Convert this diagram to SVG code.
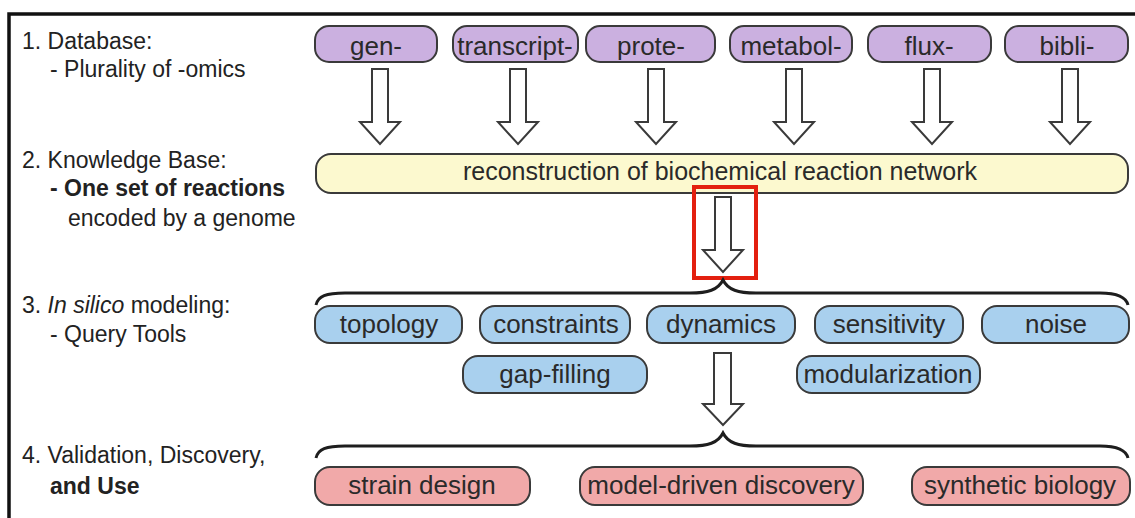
<svg xmlns="http://www.w3.org/2000/svg" width="1135" height="518" viewBox="0 0 1135 518">
<defs>
<style>
.lbl{font-family:"Liberation Sans",Arial,sans-serif;font-size:23px;fill:#222222}
.pt{font-family:"Liberation Sans",Arial,sans-serif;font-size:26px;fill:#2a2a2a;text-anchor:middle}
.yt{font-family:"Liberation Sans",Arial,sans-serif;font-size:25px;fill:#2a2a2a;text-anchor:middle}
.pill{stroke:#3a3a3a;stroke-width:2}
.purple{fill:#cbb0e0}
.yellow{fill:#fcf9cf}
.blue{fill:#a9d0ee}
.pink{fill:#f1a9a9}
.arrow{fill:#ffffff;stroke:#3a3a3a;stroke-width:2;stroke-linejoin:miter}
.brace{fill:none;stroke:#1e1e1e;stroke-width:3}
</style>
</defs>
<rect x="0" y="0" width="1135" height="518" fill="#ffffff"/>
<rect x="9" y="14" width="1200" height="560" fill="none" stroke="#111111" stroke-width="3.5"/>

<g id="labels">
<text class="lbl" x="22" y="49">1. Database:</text>
<text class="lbl" x="50" y="77">- Plurality of -omics</text>
<text class="lbl" x="22" y="168">2. Knowledge Base:</text>
<text class="lbl" x="50" y="196" font-weight="bold">- One set of reactions</text>
<text class="lbl" x="68" y="226">encoded by a genome</text>
<text class="lbl" x="22" y="313">3. <tspan font-style="italic">In silico</tspan> modeling:</text>
<text class="lbl" x="50" y="342">- Query Tools</text>
<text class="lbl" x="22" y="463">4. Validation, Discovery,</text>
<text class="lbl" x="50" y="494" font-weight="bold">and Use</text>
</g>

<g id="node-gen"><rect class="pill purple" x="315" y="26" width="122" height="36" rx="14"/><text class="pt" x="376" y="55">gen-</text></g>
<g id="node-transcript"><rect class="pill purple" x="453" y="26" width="125" height="36" rx="14"/><text class="pt" x="515" y="55">transcript-</text></g>
<g id="node-prote"><rect class="pill purple" x="586" y="26" width="129" height="36" rx="14"/><text class="pt" x="651" y="55">prote-</text></g>
<g id="node-metabol"><rect class="pill purple" x="730" y="26" width="122" height="36" rx="14"/><text class="pt" x="791" y="55">metabol-</text></g>
<g id="node-flux"><rect class="pill purple" x="868" y="26" width="123" height="36" rx="14"/><text class="pt" x="929" y="55">flux-</text></g>
<g id="node-bibli"><rect class="pill purple" x="1005" y="26" width="123" height="36" rx="14"/><text class="pt" x="1067" y="55">bibli-</text></g>

<g id="node-reconstruction"><rect class="pill yellow" x="316" y="154" width="812" height="39" rx="15"/><text class="yt" x="720" y="180">reconstruction of biochemical reaction network</text></g>

<g id="node-topology"><rect class="pill blue" x="315" y="306" width="147" height="37" rx="15"/><text class="pt" x="389" y="333">topology</text></g>
<g id="node-constraints"><rect class="pill blue" x="480" y="306" width="150" height="37" rx="15"/><text class="pt" x="556" y="333">constraints</text></g>
<g id="node-dynamics"><rect class="pill blue" x="647" y="306" width="148" height="37" rx="15"/><text class="pt" x="721" y="333">dynamics</text></g>
<g id="node-sensitivity"><rect class="pill blue" x="815" y="306" width="148" height="37" rx="15"/><text class="pt" x="889" y="333">sensitivity</text></g>
<g id="node-noise"><rect class="pill blue" x="982" y="306" width="147" height="37" rx="15"/><text class="pt" x="1056" y="333">noise</text></g>
<g id="node-gapfilling"><rect class="pill blue" x="463" y="356" width="184" height="37" rx="15"/><text class="pt" x="555" y="383">gap-filling</text></g>
<g id="node-modularization"><rect class="pill blue" x="797" y="356" width="183" height="37" rx="15"/><text class="pt" x="888" y="383">modularization</text></g>

<g id="node-strain"><rect class="pill pink" x="315" y="467" width="215" height="38" rx="15"/><text class="pt" x="422" y="494">strain design</text></g>
<g id="node-modeldriven"><rect class="pill pink" x="580" y="467" width="283" height="38" rx="15"/><text class="pt" x="721" y="494">model-driven discovery</text></g>
<g id="node-synthetic"><rect class="pill pink" x="912" y="467" width="218" height="38" rx="15"/><text class="pt" x="1020" y="494">synthetic biology</text></g>

<g id="connectors">
<path class="arrow" d="M372,69 H388 V122 H400 L380,144 L360,122 H372 Z"/>
<path class="arrow" d="M510,69 H526 V122 H538 L518,144 L498,122 H510 Z"/>
<path class="arrow" d="M648,69 H664 V122 H676 L656,144 L636,122 H648 Z"/>
<path class="arrow" d="M786,69 H802 V122 H814 L794,144 L774,122 H786 Z"/>
<path class="arrow" d="M924,69 H940 V122 H952 L932,144 L912,122 H924 Z"/>
<path class="arrow" d="M1062,69 H1078 V122 H1090 L1070,144 L1050,122 H1062 Z"/>
<path class="arrow" d="M715,197 H731 V250 H743 L723,272 L703,250 H715 Z"/>
<rect x="694" y="187" width="62" height="91" fill="none" stroke="#e3200f" stroke-width="4"/>
<path class="brace" d="M316,305 C318,296 326,293 345,293 L690,293 C708,293 718,290 723,280 C728,290 738,293 756,293 L1100,293 C1118,293 1126,297 1128,305"/>
<path class="arrow" d="M714,353 H731 V404 H743 L723,425 L703,404 H714 Z"/>
<path class="brace" d="M316,458 C318,449 326,446 345,446 L690,446 C708,446 718,443 723,433 C728,443 738,446 756,446 L1100,446 C1118,446 1126,450 1128,458"/>
</g>
</svg>
